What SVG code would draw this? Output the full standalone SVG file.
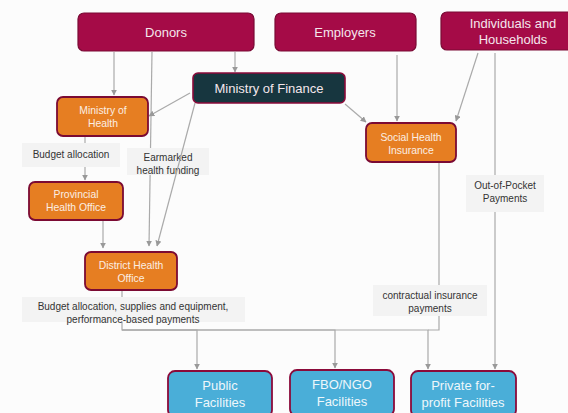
<svg xmlns="http://www.w3.org/2000/svg" width="568" height="413" viewBox="0 0 568 413">
<defs>
<marker id="arr" viewBox="0 0 10 10" refX="9" refY="5" markerWidth="6" markerHeight="6" orient="auto" markerUnits="userSpaceOnUse">
<path d="M0,0 L10,5 L0,10 z" fill="#999"/>
</marker>
</defs>
<style>
text{font-family:"Liberation Sans",Arial,sans-serif;text-anchor:middle}
.top{fill:#a50b47;stroke:#7a0a35;stroke-width:1.2}
.mof{fill:#17363f;stroke:#8b0a3a;stroke-width:1.6}
.org{fill:#e67e22;stroke:#7b0a33;stroke-width:1.8}
.blu{fill:#4aaed8;stroke:#8b0a3a;stroke-width:1.8}
.big{font-size:13px;fill:#f4e6ec}
.sm{font-size:10.4px;fill:#fbeee4}
.bt{font-size:13px;fill:#eef7fb}
.lbl{fill:#f3f3f3}
.lt{font-size:10px;fill:#333}
.e{fill:none;stroke:#aaa;stroke-width:1.2}
</style>
<rect width="568" height="413" fill="#fcfcfc"/>
<g id="connectors">
<path class="e" d="M114,52 V95" marker-end="url(#arr)"/>
<path class="e" d="M235,52 V72" marker-end="url(#arr)"/>
<path class="e" d="M152,52 L149,246" marker-end="url(#arr)"/>
<path class="e" d="M190,93 L149,116" marker-end="url(#arr)"/>
<path class="e" d="M85,136 V180" marker-end="url(#arr)"/>
<path class="e" d="M103,220 V248" marker-end="url(#arr)"/>
<path class="e" d="M397,55 V121" marker-end="url(#arr)"/>
<path class="e" d="M345,104 L366,122" marker-end="url(#arr)"/>
<path class="e" d="M478,53 L456,121" marker-end="url(#arr)"/>
<path class="e" d="M495,53 V369" marker-end="url(#arr)"/>
<path class="e" d="M122,290 V330 H197 V369" marker-end="url(#arr)"/>
<path class="e" d="M122,330 H335 V368" marker-end="url(#arr)"/>
<path class="e" d="M122,330 H428 V369" marker-end="url(#arr)"/>
<path class="e" d="M439,162 V330 H428"/>
<g id="labels">
<rect class="lbl" x="22" y="143" width="98" height="24"/>
<text class="lt" x="71" y="157.5">Budget allocation</text>
<rect class="lbl" x="127" y="148" width="82" height="27"/>
<text class="lt" x="168" y="160.5">Earmarked</text>
<text class="lt" x="168" y="173.5">health funding</text>
<rect class="lbl" x="22" y="297" width="223" height="25"/>
<text class="lt" x="133" y="309.5">Budget allocation, supplies and equipment,</text>
<text class="lt" x="133" y="322.5">performance-based payments</text>
<rect class="lbl" x="466" y="175" width="78" height="37"/>
<text class="lt" x="505" y="188.5">Out-of-Pocket</text>
<text class="lt" x="505" y="201.5">Payments</text>
<rect class="lbl" x="373" y="285" width="114" height="31"/>
<text class="lt" x="430" y="298.8">contractual insurance</text>
<text class="lt" x="430" y="311.5">payments</text>
</g>
<path class="e" d="M195,103 L157,246" marker-end="url(#arr)"/>
</g>
<g id="donors"><rect class="top" x="78" y="13" width="176" height="38" rx="6"/><text class="big" x="166" y="36.5">Donors</text></g>
<g id="employers"><rect class="top" x="275" y="13" width="141" height="38" rx="6"/><text class="big" x="345" y="36.5">Employers</text></g>
<g id="households"><rect class="top" x="441" y="12" width="144" height="38" rx="6"/><text class="big" x="513" y="27.5">Individuals and</text><text class="big" x="513" y="44">Households</text></g>
<g id="mof"><rect class="mof" x="193" y="73" width="152" height="30" rx="5"/><text class="big" x="269" y="92.8">Ministry of Finance</text></g>
<g id="moh"><rect class="org" x="57" y="97" width="91" height="39" rx="6"/><text class="sm" x="103" y="113.7">Ministry of</text><text class="sm" x="103" y="126.7">Health</text></g>
<g id="pho"><rect class="org" x="29" y="182" width="94" height="38" rx="6"/><text class="sm" x="76" y="197.7">Provincial</text><text class="sm" x="76" y="210.7">Health Office</text></g>
<g id="dho"><rect class="org" x="85" y="252" width="92" height="38" rx="6"/><text class="sm" x="131" y="268.7">District Health</text><text class="sm" x="131" y="281.7">Office</text></g>
<g id="shi"><rect class="org" x="366" y="123" width="90" height="39" rx="6"/><text class="sm" x="411" y="140.7">Social Health</text><text class="sm" x="411" y="153.7">Insurance</text></g>
<g id="public"><rect class="blu" x="168" y="371" width="104" height="46" rx="7"/><text class="bt" x="220" y="389.5">Public</text><text class="bt" x="220" y="406.5">Facilities</text></g>
<g id="fbo"><rect class="blu" x="290" y="370" width="104" height="46" rx="7"/><text class="bt" x="342" y="389">FBO/NGO</text><text class="bt" x="342" y="406">Facilities</text></g>
<g id="private"><rect class="blu" x="411" y="371" width="105" height="46" rx="7"/><text class="bt" x="463" y="389.5">Private for-</text><text class="bt" x="463" y="406.5">profit Facilities</text></g>
</svg>
